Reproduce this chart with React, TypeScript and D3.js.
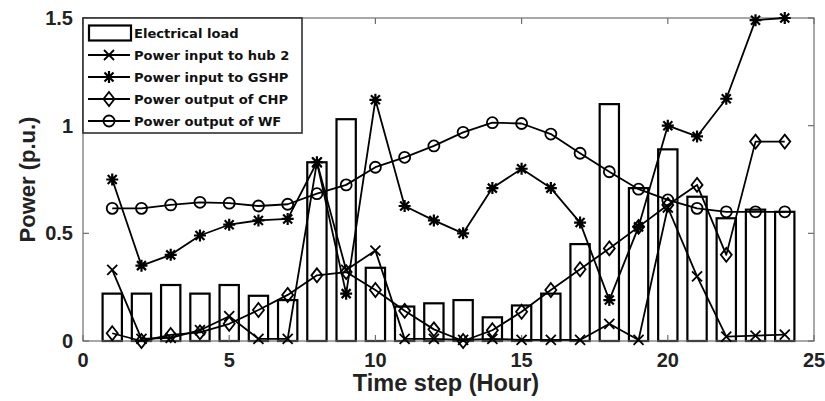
import React from "react";
import * as d3 from "d3";

const hours = d3.range(1, 25);
const electricalLoad = [0.22, 0.22, 0.26, 0.22, 0.26, 0.21, 0.19, 0.83, 1.03, 0.34, 0.16, 0.175, 0.19, 0.11, 0.165, 0.22, 0.45, 1.1, 0.71, 0.89, 0.67, 0.57, 0.61, 0.6];
const hub2Input = [0.33, 0.01, 0.015, 0.05, 0.115, 0.01, 0.01, 0.83, 0.33, 0.42, 0.01, 0.01, 0.005, 0.01, 0.005, 0.005, 0.005, 0.08, 0.005, 0.62, 0.3, 0.02, 0.025, 0.03];
const gshpInput = [0.75, 0.35, 0.4, 0.49, 0.54, 0.56, 0.567, 0.83, 0.22, 1.12, 0.627, 0.56, 0.5, 0.71, 0.8, 0.71, 0.55, 0.19, 0.53, 1.0, 0.95, 1.125, 1.49, 1.5];
const chpOutput = [0.036, 0.0, 0.028, 0.04, 0.08, 0.144, 0.214, 0.305, 0.32, 0.237, 0.14, 0.054, 0.0, 0.05, 0.136, 0.237, 0.333, 0.43, 0.53, 0.632, 0.725, 0.4, 0.926, 0.926];
const wfOutput = [0.616, 0.616, 0.632, 0.644, 0.64, 0.627, 0.635, 0.684, 0.725, 0.807, 0.853, 0.906, 0.969, 1.014, 1.01, 0.961, 0.872, 0.786, 0.705, 0.655, 0.616, 0.6, 0.6, 0.6];

const xTicks = [0, 5, 10, 15, 20, 25];
const yTicks = [0, 0.5, 1, 1.5];
const yTickLabels = ["0", "0.5", "1", "1.5"];

const legendLabels = ["Electrical load", "Power input to hub 2", "Power input to GSHP", "Power output of CHP", "Power output of WF"];

type MarkerKind = "x" | "star" | "diamond" | "circle";

const seriesList: { values: number[]; marker: MarkerKind }[] = [
  { values: hub2Input, marker: "x" },
  { values: gshpInput, marker: "star" },
  { values: chpOutput, marker: "diamond" },
  { values: wfOutput, marker: "circle" },
];

const W = 825;
const H = 401;
const left = 83, right = 814, top = 18, bottom = 341;

function Marker({ kind, x, y }: { kind: MarkerKind; x: number; y: number }) {
  const common = { fill: "none", stroke: "#000", strokeWidth: 1.8 };
  if (kind === "x") {
    return <path transform={`translate(${x},${y})`} d="M-5,-5L5,5M-5,5L5,-5" {...common} />;
  }
  if (kind === "star") {
    return (
      <path
        transform={`translate(${x},${y})`}
        d="M-4.5,-4.5L4.5,4.5M-4.5,4.5L4.5,-4.5M0,-6L0,6M-6,0L6,0"
        {...common}
        strokeWidth={2.2}
      />
    );
  }
  if (kind === "diamond") {
    return <path transform={`translate(${x},${y})`} d="M0,-7L5.5,0L0,7L-5.5,0Z" {...common} />;
  }
  return <circle cx={x} cy={y} r={5.5} {...common} />;
}

export default function App() {
  const x = d3.scaleLinear().domain([0, 25]).range([left, right]);
  const y = d3.scaleLinear().domain([0, 1.5]).range([bottom, top]);
  const barW = x(0.66) - x(0);
  const line = d3
    .line<number>()
    .x((_, i) => x(hours[i]))
    .y((d) => y(d));

  const axisColor = "#6e6e6e";
  const tickLen = 6;
  const tickFont = "'Liberation Sans', Arial, sans-serif";

  const legX = 83, legY = 18, legW = 219, legH = 115;
  const legRowY = [33, 55, 77, 99, 121];

  return (
    <svg width={W} height={H} style={{ position: "absolute", left: 0, top: 0, background: "#fff" }}>
      <rect x={0} y={0} width={W} height={H} fill="#fff" />
      {/* bars */}
      {electricalLoad.map((v, i) => (
        <rect
          key={"b" + i}
          x={x(hours[i]) - barW / 2}
          y={y(v)}
          width={barW}
          height={y(0) - y(v)}
          fill="#fff"
          stroke="#000"
          strokeWidth={2.2}
        />
      ))}
      {/* axes box */}
      <rect x={left} y={top} width={right - left} height={bottom - top} fill="none" stroke={axisColor} strokeWidth={1.2} />
      {xTicks.map((t) => (
        <g key={"xt" + t}>
          <line x1={x(t)} x2={x(t)} y1={bottom} y2={bottom - tickLen} stroke={axisColor} strokeWidth={1.2} />
          <line x1={x(t)} x2={x(t)} y1={top} y2={top + tickLen} stroke={axisColor} strokeWidth={1.2} />
          <text x={x(t)} y={bottom + 26} textAnchor="middle" fontFamily={tickFont} fontWeight="bold" fontSize={20} fill="#222">
            {t}
          </text>
        </g>
      ))}
      {yTicks.map((t, i) => (
        <g key={"yt" + t}>
          <line x1={left} x2={left + tickLen} y1={y(t)} y2={y(t)} stroke={axisColor} strokeWidth={1.2} />
          <line x1={right} x2={right - tickLen} y1={y(t)} y2={y(t)} stroke={axisColor} strokeWidth={1.2} />
          <text x={left - 10} y={y(t) + 7} textAnchor="end" fontFamily={tickFont} fontWeight="bold" fontSize={20} fill="#222">
            {yTickLabels[i]}
          </text>
        </g>
      ))}
      {/* lines */}
      {seriesList.map((s, si) => (
        <g key={"s" + si}>
          <path d={line(s.values) || ""} fill="none" stroke="#000" strokeWidth={1.8} strokeLinejoin="round" />
          {s.values.map((v, i) => (
            <Marker key={i} kind={s.marker} x={x(hours[i])} y={y(v)} />
          ))}
        </g>
      ))}
      {/* axis titles */}
      <text
        x={446}
        y={391}
        textAnchor="middle"
        fontFamily={tickFont}
        fontWeight="bold"
        fontSize={23.5}
        fill="#222"
      >
        Time step (Hour)
      </text>
      <text
        transform={`translate(35,${(top + bottom) / 2}) rotate(-90)`}
        textAnchor="middle"
        fontFamily={tickFont}
        fontWeight="bold"
        fontSize={22}
        fill="#222"
      >
        Power (p.u.)
      </text>
      {/* legend */}
      <rect x={legX} y={legY} width={legW} height={legH} fill="#fff" stroke="#222" strokeWidth={1.5} />
      {legendLabels.map((lab, i) => (
        <g key={"l" + i}>
          {i === 0 ? (
            <rect x={89} y={legRowY[0] - 7.5} width={42} height={15} fill="#fff" stroke="#000" strokeWidth={2.2} />
          ) : (
            <>
              <line x1={88} x2={130} y1={legRowY[i]} y2={legRowY[i]} stroke="#000" strokeWidth={1.8} />
              <Marker kind={seriesList[i - 1].marker} x={109} y={legRowY[i]} />
            </>
          )}
          <text x={134} y={legRowY[i] + 5} fontFamily="'DejaVu Sans', Verdana, sans-serif" fontWeight="bold" fontSize={13.1} fill="#111">
            {lab}
          </text>
        </g>
      ))}
    </svg>
  );
}
